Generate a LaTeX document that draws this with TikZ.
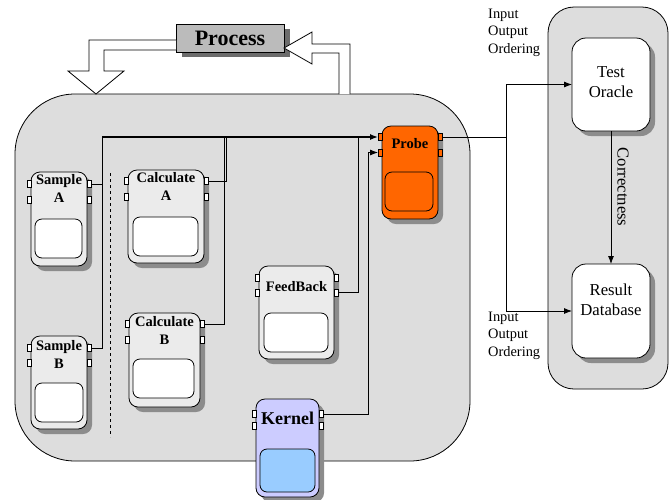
\documentclass[tikz,border=0pt]{standalone}
\usepackage{fontspec}
\setmainfont{Liberation Serif}
\usetikzlibrary{shadows,arrows.meta}
\definecolor{areagray}{HTML}{DDDDDD}
\definecolor{devgray}{HTML}{EBEBEB}
\definecolor{shadowgray}{HTML}{8C8C8C}
\definecolor{procgray}{HTML}{BBBBBB}
\definecolor{kernelfill}{HTML}{CCCCFF}
\definecolor{kernelin}{HTML}{99CCFF}
\definecolor{probefill}{HTML}{FF6600}
\tikzset{
  area/.style={draw, line width=0.8pt, fill=areagray, anchor=north west, inner sep=0, outer sep=0},
  dev/.style={draw, line width=0.8pt, rounded corners=9pt, inner sep=0, outer sep=0,
    drop shadow={shadow xshift=5pt, shadow yshift=-5pt, fill=shadowgray, opacity=1}},
  inbox/.style={draw, line width=0.8pt, rounded corners=7pt, anchor=north west, inner sep=0, outer sep=0},
  port/.style={draw, line width=0.6pt, rectangle, minimum width=4pt, minimum height=7pt, inner sep=0, outer sep=0},
  devlab/.style={align=center, inner sep=0, font=\fontsize{14.5}{18}\selectfont\bfseries},
  box/.style={draw, line width=0.8pt, fill=white, rounded corners=14pt, anchor=north west, inner sep=0, outer sep=0,
    drop shadow={shadow xshift=5pt, shadow yshift=-5pt, fill=shadowgray, opacity=1}},
  boxlab/.style={align=center, inner sep=0, font=\fontsize{16.7}{20}\selectfont},
  smalllab/.style={align=left, inner sep=0, anchor=west, font=\fontsize{14.4}{17.5}\selectfont},
  conn/.style={line width=0.8pt},
  mainconn/.style={line width=1.3pt},
  tip/.style={-{Latex[length=8pt,width=6pt]}},
  hollow/.style={draw, line width=0.8pt, fill=white}
}
% device: name, left, top, right, bottom, fill, port y1, port y2, port fill
\newcommand{\devc}[9]{%
  \node[dev, fill=#6, anchor=north west, minimum width={#4pt-#2pt}, minimum height={#5pt-#3pt}] (#1) at (#2,#3) {};
  \node[port, fill=#9] (#1-l1) at (#2-2,#7) {};
  \node[port, fill=#9] (#1-l2) at (#2-2,#8) {};
  \node[port, fill=#9] (#1-r1) at (#4+2,#7) {};
  \node[port, fill=#9] (#1-r2) at (#4+2,#8) {};
}
% inner box: name, left, top, right, bottom, fill
\newcommand{\inb}[6]{%
  \node[inbox, fill=#6, minimum width={#4pt-#2pt}, minimum height={#5pt-#3pt}] (#1) at (#2,#3) {};
}
\begin{document}
\begin{tikzpicture}[x=1pt, y=-1pt]
\useasboundingbox (0,0) rectangle (669,499);
% containers
\node[area, rounded corners=60pt, minimum width=455pt, minimum height=367pt] (procarea) at (15,94) {};
\node[area, rounded corners=26pt, minimum width=120pt, minimum height=382pt] (testarea) at (548,7) {};
% process box
\node[draw, line width=0.8pt, fill=procgray, anchor=north west, minimum width=108pt, minimum height=28pt, inner sep=0,
  drop shadow={shadow xshift=6pt, shadow yshift=-5pt, fill=gray!85!black, opacity=1}] (process) at (176,24) {};
\node[inner sep=0, font=\fontsize{22}{24}\selectfont\bfseries] (proclab) at (230,38.5) {Process};
% hollow arrows
\draw[hollow] (176,40) -- (89,40) -- (89,71) -- (68,71) -- (96,94) -- (124,71) -- (104,71) -- (104,50) -- (176,50);
\draw[hollow] (339,94) -- (339,53) -- (312,53) -- (312,64) -- (284,48) -- (312,32) -- (312,44) -- (350,44) -- (350,94);
% dashed separator
\coordinate (d1) at (110.7,173);
\coordinate (d2) at (110.7,437);
\draw[dashed, line width=0.6pt] (d1) -- (d2);
% devices
\devc{SA}{31}{172}{87}{266}{devgray}{184}{199.5}{white}
\inb{SAin}{35}{219}{82}{258}{white}
\node[devlab] (SAlab) at (59,188) {Sample\\A};
\devc{CA}{128}{170}{204}{263}{devgray}{181}{196.5}{white}
\inb{CAin}{133}{217}{198}{256}{white}
\node[devlab] (CAlab) at (166,186) {Calculate\\A};
\devc{SB}{31}{336}{87}{429}{devgray}{348}{363}{white}
\inb{SBin}{35}{383}{83}{422}{white}
\node[devlab] (SBlab) at (59,354) {Sample\\B};
\devc{CB}{129}{313}{200}{407}{devgray}{324}{340}{white}
\inb{CBin}{133}{359}{194}{398}{white}
\node[devlab] (CBlab) at (164.5,330.5) {Calculate\\B};
\devc{FB}{259}{266}{334}{359}{devgray}{277.5}{292.5}{white}
\inb{FBin}{264}{313}{328}{352}{white}
\node[devlab] (FBlab) at (296.5,287) {FeedBack};
\devc{K}{256}{399}{319}{497}{kernelfill}{414}{426}{white}
\inb{Kin}{260}{449}{315}{492}{kernelin}
\node[devlab, font=\fontsize{18}{20}\selectfont\bfseries] (Klab) at (287.5,418) {Kernel};
\devc{PR}{382}{126}{438}{219}{probefill}{137}{152.5}{probefill}
\inb{PRin}{385}{172}{433}{211}{probefill}
\node[devlab] (PRlab) at (410,144) {Probe};
% test area boxes
\node[box, minimum width=78pt, minimum height=93pt] (TO) at (572,38) {};
\node[boxlab] (TOlab) at (611,82) {Test\\Oracle};
\node[box, minimum width=78pt, minimum height=94pt] (RD) at (572,264) {};
\node[boxlab] (RDlab) at (611,300) {Result\\Database};
\node[boxlab, rotate=-90] (corr) at (623,187) {Correctness};
\node[smalllab] (io1) at (488,32.5) {Input\\Output\\Ordering};
\node[smalllab] (io2) at (488,335.5) {Input\\Output\\Ordering};
% connectors
\coordinate (j1) at (102,137);
\coordinate (j2) at (226,137);
\coordinate (j3) at (224,137);
\coordinate (j4) at (358,137);
\coordinate (j5) at (368,152.5);
\coordinate (j6) at (506,137);
\draw[conn] (SA-r1.east) -| (j1);
\draw[conn] (SB-r1.east) -| (j1);
\draw[conn] (CA-r1.east) -| (j2);
\draw[conn] (CB-r1.east) -| (j3);
\draw[conn] (FB-r2.east) -| (j4);
\draw[mainconn, tip] (j1) -- (PR-l1.west);
\draw[conn] (K-r1.east) -| (j5);
\draw[conn, tip] (j5) -- (PR-l2.west);
\draw[conn] (PR-r1.east) -- (j6);
\draw[conn, tip] (j6) |- (TO.west);
\draw[conn, tip] (j6) |- (RD.west);
\draw[conn, tip] (TO.south) -- (RD.north);
\end{tikzpicture}
\end{document}
